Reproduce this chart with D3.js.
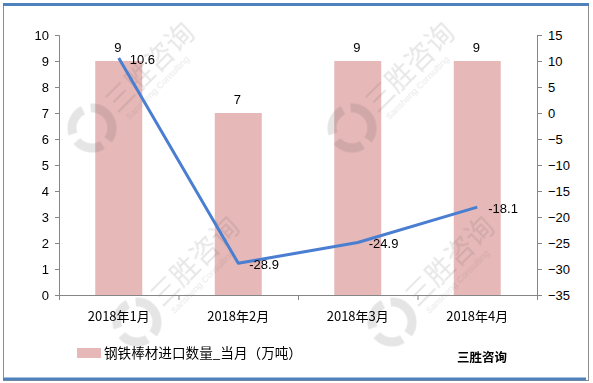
<!DOCTYPE html>
<html><head><meta charset="utf-8">
<script src="https://cdn.jsdelivr.net/npm/d3@7"></script>
<style>body{margin:0;background:#fff}svg{display:block}</style>
</head><body><svg id="c" width="593" height="383"></svg>
<script>
const categories = ["2018年1月","2018年2月","2018年3月","2018年4月"];
const barValues = [9, 7, 9, 9];
const lineValues = [10.6, -28.9, -24.9, -18.1];
const leftTicks = [0,1,2,3,4,5,6,7,8,9,10];
const rightTicks = [-35,-30,-25,-20,-15,-10,-5,0,5,10,15];
const legendLabel = "钢铁棒材进口数量_当月（万吨）";
const brand = "三胜咨询";

const svg = d3.select("#c");
const font = "'Noto Sans CJK SC','DejaVu Sans',sans-serif";
const numFont = "'Liberation Sans','DejaVu Sans',sans-serif";
const L = 59, R = 537, T = 35, B = 295;

// outer frame
svg.append("rect").attr("x",3.5).attr("y",3.5).attr("width",585).attr("height",377)
  .attr("fill","#fff").attr("stroke","#8c8c8c").attr("stroke-width",1);
svg.append("line").attr("x1",3).attr("x2",589).attr("y1",4.5).attr("y2",4.5).attr("stroke","#4f81bd").attr("stroke-width",3);
svg.append("line").attr("x1",3).attr("x2",586).attr("y1",379).attr("y2",379).attr("stroke","#4f81bd").attr("stroke-width",3);

const x = d3.scaleBand().domain(categories).range([L,R]).paddingInner(0).paddingOuter(0);
const yL = d3.scaleLinear().domain([0,10]).range([B,T]);
const yR = d3.scaleLinear().domain([-35,15]).range([B,T]);

// bars
const bw = 47;
svg.append("g").selectAll("rect").data(barValues).join("rect")
  .attr("x",(d,i)=>x(categories[i])+x.bandwidth()/2-bw/2)
  .attr("width",bw)
  .attr("y",d=>yL(d)).attr("height",d=>B-yL(d))
  .attr("fill","#e6b9b8");

// watermarks
const wm = [[92,128],[352,128],[137,322],[392,322]];
const wg = svg.append("g").attr("opacity",0.14);
wm.forEach(([cx,cy])=>{
  const g = wg.append("g").attr("transform",`translate(${cx},${cy}) rotate(-45)`);
  g.append("circle").attr("r",20).attr("fill","none").attr("stroke","#444").attr("stroke-width",9).attr("stroke-dasharray","28 8");
  g.append("text").attr("x",28).attr("y",8).attr("font-family",font).attr("font-size",28).attr("fill","#555").text(brand);
  g.append("text").attr("x",32).attr("y",21).attr("font-family",numFont).attr("font-size",9).attr("fill","#555").text("Sansheng Consulting");
});

// axes
const axL = svg.append("g").attr("transform",`translate(${L},0)`)
  .call(d3.axisLeft(yL).tickValues(leftTicks).tickSize(4).tickPadding(6));
const axR = svg.append("g").attr("transform",`translate(${R},0)`)
  .call(d3.axisRight(yR).tickValues(rightTicks).tickSize(5).tickPadding(6));
const axB = svg.append("g").attr("transform",`translate(0,${B})`)
  .call(d3.axisBottom(x).tickSize(0).tickPadding(17));
[axL,axR,axB].forEach(a=>{
  a.select(".domain").attr("stroke","#868686");
  a.selectAll(".tick line").attr("stroke","#868686");
  a.selectAll("text").attr("fill","#000").attr("font-size",13).attr("font-family",numFont);
});
axB.selectAll("text").attr("font-family",font).attr("font-size",13);
axB.select(".domain").remove();
svg.append("line").attr("x1",L).attr("x2",R).attr("y1",B+0.5).attr("y2",B+0.5).attr("stroke","#868686");
// category boundary ticks
svg.append("g").selectAll("line").data(categories.concat(["end"])).join("line")
  .attr("x1",(d,i)=>L+i*x.bandwidth()+0.5).attr("x2",(d,i)=>L+i*x.bandwidth()+0.5)
  .attr("y1",B).attr("y2",B+5).attr("stroke","#868686");

// line
const line = d3.line().x((d,i)=>x(categories[i])+x.bandwidth()/2).y(d=>yR(d));
svg.append("path").datum(lineValues).attr("d",line).attr("fill","none")
  .attr("stroke","#4a7ed0").attr("stroke-width",3).attr("stroke-linejoin","round");

// labels
svg.append("g").selectAll("text").data(barValues).join("text")
  .attr("x",(d,i)=>x(categories[i])+x.bandwidth()/2-1)
  .attr("y",d=>yL(d)-9).attr("text-anchor","middle")
  .attr("font-family",numFont).attr("font-size",13).attr("fill","#000").text(d=>d);
svg.append("g").selectAll("text").data(lineValues).join("text")
  .attr("x",(d,i)=>x(categories[i])+x.bandwidth()/2+11)
  .attr("y",d=>yR(d)+6)
  .attr("font-family",numFont).attr("font-size",13).attr("fill","#000").text(d=>d);

// legend
svg.append("rect").attr("x",77).attr("y",348).attr("width",24).attr("height",10).attr("fill","#e6b9b8");
svg.append("text").attr("x",104).attr("y",358).attr("font-family",font).attr("font-size",13.6).attr("fill","#000").text(legendLabel);
svg.append("text").attr("x",457).attr("y",362).attr("font-family",font).attr("font-weight","bold").attr("font-size",12.5).attr("fill","#000").text(brand);
</script></body></html>
